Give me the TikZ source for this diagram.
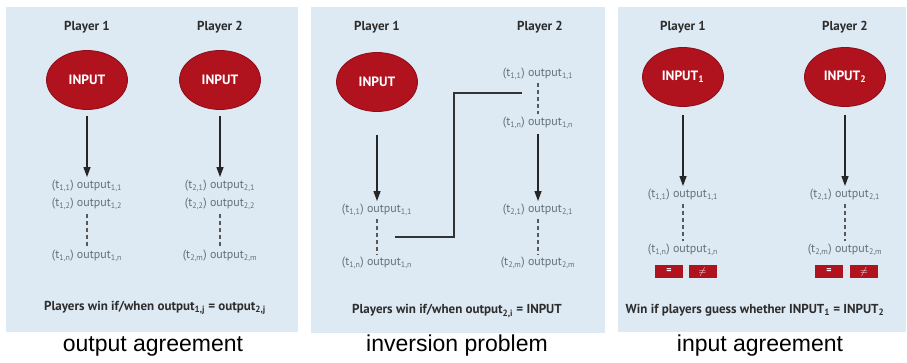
\documentclass[tikz,border=0pt]{standalone}
\usepackage{fontspec}
\setmainfont{PT Sans}
\newfontfamily\capfont{Liberation Sans}
\usetikzlibrary{shapes.geometric,arrows.meta}

\definecolor{panelbg}{RGB}{221,233,243}
\definecolor{inred}{RGB}{176,18,30}
\definecolor{textgray}{RGB}{100,112,122}
\definecolor{labeldark}{RGB}{45,45,45}

\newcommand\sbs[1]{\textsubscript{#1}}
\newcommand\outp[1]{(t\sbs{#1})\ output\sbs{#1}}

\tikzset{
  panel/.style={fill=panelbg, draw=none},
  player/.style={font=\bfseries\fontsize{13}{15}\selectfont, text=labeldark},
  inputnode/.style={ellipse, fill=inred, draw=inred!80!black, line width=0.8pt,
    minimum width=81pt, minimum height=59pt, inner sep=0pt, text=white,
    font=\bfseries\fontsize{13.5}{15}\selectfont},
  outnode/.style={text=textgray, font=\fontsize{12}{14}\selectfont, inner sep=1pt},
  flow/.style={-{Triangle[length=10pt,width=7pt]}, line width=1.2pt, draw=black!85},
  dots/.style={dash pattern=on 4pt off 3pt, line width=1.4pt, draw=black!65},
  link/.style={line width=1.2pt, draw=black!80},
  wintext/.style={font=\bfseries\fontsize{13}{15}\selectfont, text=labeldark},
  caption/.style={font=\capfont\fontsize{23}{27}\selectfont, text=black},
  choice/.style={fill=inred, text=white, minimum width=28pt, minimum height=13pt,
    inner sep=0pt, font=\bfseries\fontsize{10}{10}\selectfont},
}

\begin{document}
\begin{tikzpicture}[x=1pt, y=-1pt]
  \useasboundingbox (0,0) rectangle (907,362);
  \fill[white] (0,0) rectangle (907,362);

  % ---------- panels ----------
  \fill[panel] (6,7) rectangle (298,332);
  \fill[panel] (311,7) rectangle (605,333);
  \fill[panel] (618,7) rectangle (906,332);

  % ---------- output agreement ----------
  \node[player] (a-p1) at (87,27) {Player 1};
  \node[player] (a-p2) at (220,27) {Player 2};
  \node[inputnode] (a-in1) at (87,80) {INPUT};
  \node[inputnode] (a-in2) at (220,80) {INPUT};
  \node[outnode] (a-o11) at (87,186) {\outp{1,1}};
  \node[outnode] (a-o12) at (87,204) {\outp{1,2}};
  \node[outnode] (a-o1n) at (87,256) {\outp{1,n}};
  \node[outnode] (a-o21) at (220,186) {\outp{2,1}};
  \node[outnode] (a-o22) at (220,204) {\outp{2,2}};
  \node[outnode] (a-o2m) at (220,256) {\outp{2,m}};
  \draw[flow, shorten <=6pt, shorten >=2pt] (a-in1.south) -- (a-o11.north);
  \draw[flow, shorten <=6pt, shorten >=2pt] (a-in2.south) -- (a-o21.north);
  \draw[dots, shorten <=3pt, shorten >=3pt] (a-o12.south) -- (a-o1n.north);
  \draw[dots, shorten <=3pt, shorten >=3pt] (a-o22.south) -- (a-o2m.north);
  \node[wintext] (a-win) at (155,308) {Players win if/when output\sbs{1,j} = output\sbs{2,j}};
  \node[caption] (a-cap) at (153,346) {output agreement};

  % ---------- inversion problem ----------
  \node[player] (b-p1) at (377,27) {Player 1};
  \node[player] (b-p2) at (540,27) {Player 2};
  \node[inputnode] (b-in1) at (377,82) {INPUT};
  \node[outnode] (b-o11) at (377,210) {\outp{1,1}};
  \node[outnode] (b-o1n) at (377,263) {\outp{1,n}};
  \node[outnode] (b-q11) at (538,74) {\outp{1,1}};
  \node[outnode] (b-q1n) at (538,123) {\outp{1,n}};
  \node[outnode] (b-o21) at (538,210) {\outp{2,1}};
  \node[outnode] (b-o2m) at (538,263) {\outp{2,m}};
  \draw[flow, shorten <=23pt, shorten >=2pt] (b-in1.south) -- (b-o11.north);
  \draw[flow, shorten <=4pt, shorten >=2pt] (b-q1n.south) -- (b-o21.north);
  \draw[dots, shorten <=2pt, shorten >=2pt] (b-o11.south) -- (b-o1n.north);
  \draw[dots, shorten <=2pt, shorten >=2pt] (b-q11.south) -- (b-q1n.north);
  \draw[dots, shorten <=2pt, shorten >=2pt] (b-o21.south) -- (b-o2m.north);
  \coordinate (b-from) at (395,237);
  \coordinate (b-to) at (522,93);
  \draw[link] (b-from) -- (454,237) |- (b-to);
  \node[wintext] (b-win) at (457,311) {Players win if/when output\sbs{2,i} = INPUT};
  \node[caption] (b-cap) at (457,346) {inversion problem};

  % ---------- input agreement ----------
  \node[player] (c-p1) at (683,27) {Player 1};
  \node[player] (c-p2) at (845,27) {Player 2};
  \node[inputnode] (c-in1) at (683,77) {INPUT\sbs{1}};
  \node[inputnode] (c-in2) at (845,77) {INPUT\sbs{2}};
  \node[outnode] (c-o11) at (683,195) {\outp{1,1}};
  \node[outnode] (c-o1n) at (683,250) {\outp{1,n}};
  \node[outnode] (c-o21) at (845,195) {\outp{2,1}};
  \node[outnode] (c-o2m) at (845,250) {\outp{2,m}};
  \draw[flow, shorten <=8pt, shorten >=2pt] (c-in1.south) -- (c-o11.north);
  \draw[flow, shorten <=8pt, shorten >=2pt] (c-in2.south) -- (c-o21.north);
  \draw[dots, shorten <=2pt, shorten >=2pt] (c-o11.south) -- (c-o1n.north);
  \draw[dots, shorten <=2pt, shorten >=2pt] (c-o21.south) -- (c-o2m.north);
  \node[choice] (c-eq1) at (669,271.5) {=};
  \node[choice] (c-ne1) at (702.5,271.5) {$\neq$};
  \node[choice] (c-eq2) at (829,271.5) {=};
  \node[choice] (c-ne2) at (864,271.5) {$\neq$};
  \node[wintext] (c-win) at (755,310) {Win if players guess whether INPUT\sbs{1} = INPUT\sbs{2}};
  \node[caption] (c-cap) at (760,346) {input agreement};
\end{tikzpicture}
\end{document}
